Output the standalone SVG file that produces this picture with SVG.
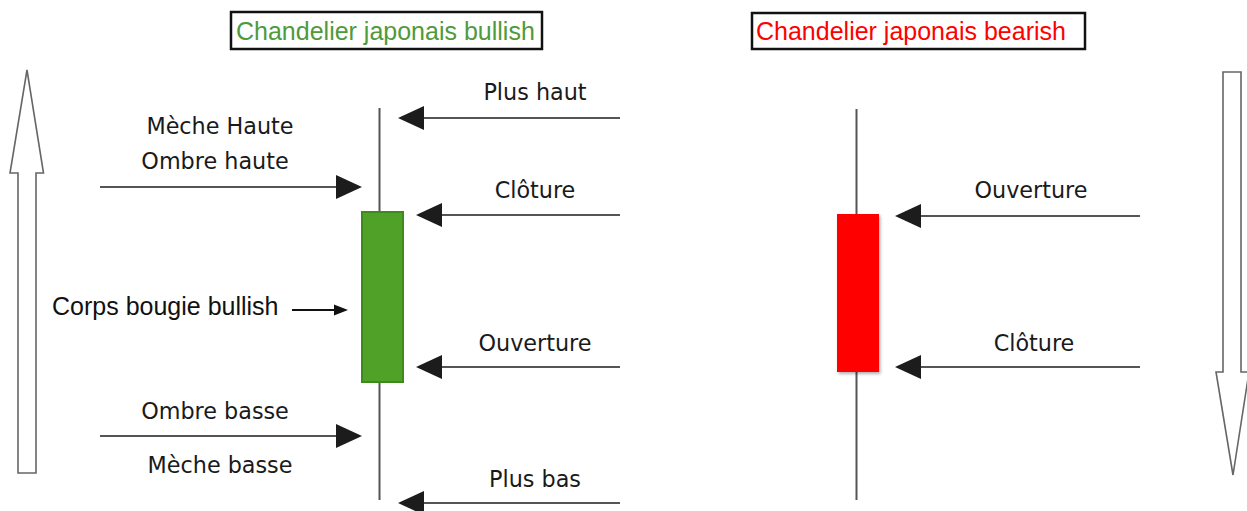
<svg xmlns="http://www.w3.org/2000/svg" width="1247" height="511" viewBox="0 0 1247 511">
<style>
.lbl{font-family:"DejaVu Sans","Liberation Sans",sans-serif;font-size:22.3px;fill:#1a1a1a;text-anchor:middle}
.ttl{font-family:"Liberation Sans",Arial,sans-serif;font-size:25px}
.box{fill:#fff;stroke:#111;stroke-width:2.5}
.wick{stroke:#555;stroke-width:2;fill:none}
.conn{stroke:#555;stroke-width:2;fill:none}
.head{fill:#1c1c1c}
.big{fill:#fff;stroke:#666;stroke-width:1.6}
</style>
<defs>
<filter id="sh" x="-20%" y="-10%" width="150%" height="130%"><feDropShadow dx="1.5" dy="2" stdDeviation="1.5" flood-color="#000" flood-opacity="0.3"/></filter>
</defs>
<rect width="1247" height="511" fill="#fff"/>

<g id="arrow-up"><polygon class="big" points="27,70 43.5,173 36,173 36,473 18,473 18,173 10,173"/></g>
<g id="arrow-down"><polygon class="big" points="1223,72 1241,72 1241,372 1249,372 1233,475 1216,372 1223,372"/></g>

<g id="title-bullish"><rect class="box" x="231" y="12" width="311" height="37"/><text class="ttl" x="236" y="40" fill="#4f9a3a">Chandelier japonais bullish</text></g>
<g id="title-bearish"><rect class="box" x="752" y="13" width="333" height="36"/><text class="ttl" x="756" y="40" fill="#ff0000">Chandelier japonais bearish</text></g>

<g id="candle-bullish">
<line class="wick" x1="379.5" y1="108" x2="379.5" y2="500"/>
<rect x="362" y="212" width="41" height="170" fill="#4fa128" stroke="#3e8a1e" stroke-width="2"/>
</g>
<g id="candle-bearish">
<line class="wick" x1="856.5" y1="109" x2="856.5" y2="500"/>
<rect x="837" y="214" width="42" height="158" fill="#ff0000" filter="url(#sh)"/>
</g>

<g id="connectors">
<line class="conn" x1="620" y1="118" x2="420" y2="118"/><polygon class="head" points="398,118 424,106 424,130"/>
<line class="conn" x1="620" y1="215" x2="438" y2="215"/><polygon class="head" points="416,215 442,203 442,227"/>
<line class="conn" x1="620" y1="367" x2="438" y2="367"/><polygon class="head" points="416,367 442,355 442,379"/>
<line class="conn" x1="620" y1="503" x2="420" y2="503"/><polygon class="head" points="398,503 424,491 424,515"/>
<line class="conn" x1="100" y1="187" x2="340" y2="187"/><polygon class="head" points="362,187 336,175 336,199"/>
<line class="conn" x1="100" y1="436" x2="340" y2="436"/><polygon class="head" points="362,436 336,424 336,448"/>
<line x1="292" y1="310" x2="338" y2="310" stroke="#111" stroke-width="2"/><polygon points="348,310 334,304.5 334,315.5" fill="#111"/>
<line class="conn" x1="1140" y1="216" x2="917" y2="216"/><polygon class="head" points="895,216 921,204 921,228"/>
<line class="conn" x1="1140" y1="367" x2="917" y2="367"/><polygon class="head" points="895,367 921,355 921,379"/>
</g>

<g id="labels">
<text class="lbl" x="535" y="100">Plus haut</text>
<text class="lbl" x="535" y="198">Clôture</text>
<text class="lbl" x="535" y="351">Ouverture</text>
<text class="lbl" x="535" y="487">Plus bas</text>
<text class="lbl" x="220" y="134">Mèche Haute</text>
<text class="lbl" x="215" y="169">Ombre haute</text>
<text class="lbl" x="215" y="419">Ombre basse</text>
<text class="lbl" x="220" y="473">Mèche basse</text>
<text class="ttl" x="52" y="315" fill="#111">Corps bougie bullish</text>
<text class="lbl" x="1031" y="198">Ouverture</text>
<text class="lbl" x="1034" y="351">Clôture</text>
</g>
</svg>
